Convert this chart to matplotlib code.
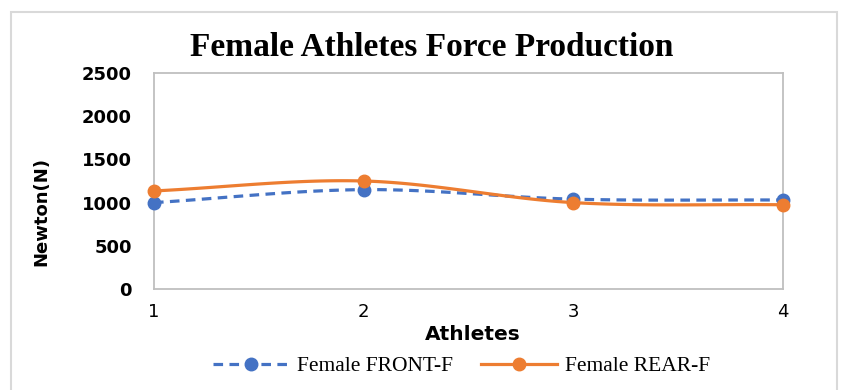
"""Female athletes force production: front vs rear foot, smoothed lines."""

import numpy as np
import matplotlib.pyplot as plt
from matplotlib.patches import Rectangle

athletes = [1, 2, 3, 4]
front_force = [1000, 1150, 1040, 1030]
rear_force = [1135, 1250, 1000, 975]

BLUE = "#4472C4"
ORANGE = "#ED7D31"
FRAME = "#D9D9D9"
SPINE = "#BFBFBF"
SERIF = ["Liberation Serif", "DejaVu Serif"]
SANS = ["DejaVu Sans"]


def smooth(x, y, n=40):
    # Catmull-Rom curve through the points, close to a spreadsheet "smoothed line"
    x = np.asarray(x, float)
    y = np.asarray(y, float)
    px = np.concatenate([[2 * x[0] - x[1]], x, [2 * x[-1] - x[-2]]])
    py = np.concatenate([[2 * y[0] - y[1]], y, [2 * y[-1] - y[-2]]])
    xs, ys = [], []
    t = np.linspace(0, 1, n)
    for i in range(1, len(px) - 2):
        for p, out in ((px, xs), (py, ys)):
            p0, p1, p2, p3 = p[i - 1], p[i], p[i + 1], p[i + 2]
            out.append(0.5 * ((2 * p1) + (-p0 + p2) * t
                              + (2 * p0 - 5 * p1 + 4 * p2 - p3) * t ** 2
                              + (-p0 + 3 * p1 - 3 * p2 + p3) * t ** 3))
    return np.concatenate(xs), np.concatenate(ys)


fig = plt.figure(figsize=(8.44, 3.90), dpi=100)
W, H = 844, 390

# outer chart frame
fig.patches.append(Rectangle((11 / W, -0.05), (837 - 11) / W, 1.05 - 12 / H,
                             transform=fig.transFigure, fill=False,
                             edgecolor=FRAME, linewidth=1.5))

ax = fig.add_axes([154 / W, 1 - 289 / H, (783 - 154) / W, (289 - 73) / H])

sx, sy = smooth(athletes, front_force)
ax.plot(sx, sy, color=BLUE, linewidth=2.3, linestyle=(0, (3, 2)), zorder=3)
ax.plot(athletes, front_force, linestyle="none", marker="o", markersize=9,
        color=BLUE, zorder=4, clip_on=False)
sx, sy = smooth(athletes, rear_force)
ax.plot(sx, sy, color=ORANGE, linewidth=2.3, zorder=5)
ax.plot(athletes, rear_force, linestyle="none", marker="o", markersize=9,
        color=ORANGE, zorder=6, clip_on=False)

# legend handles
ax.plot([], [], color=BLUE, linewidth=2.3, linestyle=(0, (3, 2)), marker="o",
        markersize=9, label="Female FRONT-F")
ax.plot([], [], color=ORANGE, linewidth=2.3, marker="o", markersize=9,
        label="Female REAR-F")

ax.set_xlim(1, 4)
ax.set_ylim(0, 2500)
ax.set_yticks(range(0, 2501, 500))
ax.set_xticks(athletes)
for s in ax.spines.values():
    s.set_color(SPINE)
    s.set_linewidth(1.3)
ax.tick_params(axis="y", length=0, pad=16)
ax.tick_params(axis="x", length=0, pad=10)
for lab in ax.get_yticklabels():
    lab.set_family(SANS)
    lab.set_fontweight("bold")
    lab.set_fontsize(13)
for lab in ax.get_xticklabels():
    lab.set_family(SANS)
    lab.set_fontsize(13)

ax.set_ylabel("Newton(N)", family=SANS, fontsize=13, fontweight="bold")
ax.yaxis.set_label_coords((50 - 154) / (783 - 154), (289 - 212) / (289 - 73))
fig.text(473 / W, 1 - 334 / H, "Athletes", family=SANS, fontsize=14.5,
         fontweight="bold", ha="center", va="center")
fig.text(432 / W, 1 - 47 / H, "Female Athletes Force Production", family=SERIF,
         fontsize=24, fontweight="bold", ha="center", va="center")

fig.legend(loc="center", bbox_to_anchor=(462 / W, 1 - 366 / H), ncol=2,
           frameon=False, prop={"family": SERIF, "size": 15.5},
           handlelength=3.5, columnspacing=1.3, handletextpad=0.4)

fig.savefig("out.png", dpi=100)
